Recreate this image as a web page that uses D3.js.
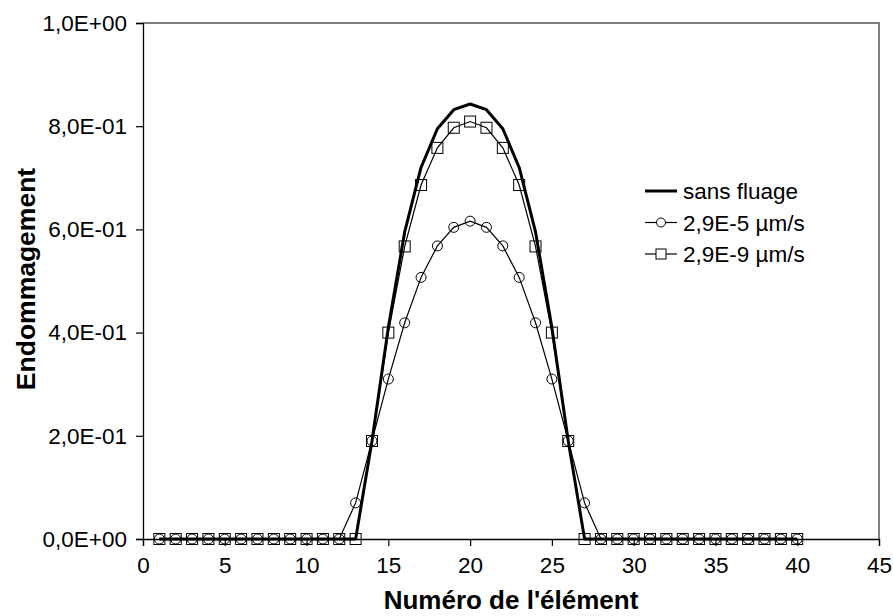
<!DOCTYPE html>
<html>
<head>
<meta charset="utf-8">
<script src="https://cdn.jsdelivr.net/npm/d3@7"></script>
<style>
  body { margin: 0; background: #fff; }
  text { font-family: "Liberation Sans", Arial, sans-serif; }
</style>
</head>
<body>
<div id="container"></div>
<script>
/* CONSTANTS AND GLOBALS */
const width = 893,
  height = 616;
const margin = { top: 23, right: 14, bottom: 77, left: 143 };

// element numbers 1..40
const elements = d3.range(1, 41);

// values (symmetric around element 20)
const sansFluage = [
  0, 0, 0, 0, 0, 0, 0, 0, 0, 0, 0, 0, 0,
  0.19, 0.41, 0.595, 0.72, 0.795, 0.832, 0.843, 0.832, 0.795, 0.72, 0.595, 0.41, 0.19,
  0, 0, 0, 0, 0, 0, 0, 0, 0, 0, 0, 0, 0, 0
];
const creep5 = [
  0, 0, 0, 0, 0, 0, 0, 0, 0, 0, 0, 0,
  0.07, 0.19, 0.31, 0.419, 0.507, 0.568, 0.604, 0.616, 0.604, 0.568, 0.507, 0.419, 0.31, 0.19, 0.07,
  0, 0, 0, 0, 0, 0, 0, 0, 0, 0, 0, 0, 0
];
const creep9 = [
  0, 0, 0, 0, 0, 0, 0, 0, 0, 0, 0, 0, 0,
  0.19, 0.40, 0.567, 0.686, 0.758, 0.797, 0.809, 0.797, 0.758, 0.686, 0.567, 0.40, 0.19,
  0, 0, 0, 0, 0, 0, 0, 0, 0, 0, 0, 0, 0, 0
];

const xTicks = [0, 5, 10, 15, 20, 25, 30, 35, 40, 45];
const yTicks = [0, 0.2, 0.4, 0.6, 0.8, 1.0];
const yTickLabels = ["0,0E+00", "2,0E-01", "4,0E-01", "6,0E-01", "8,0E-01", "1,0E+00"];
const legendLabels = ["sans fluage", "2,9E-5 µm/s", "2,9E-9 µm/s"];

const svg = d3.select("#container")
  .append("svg")
  .attr("width", width)
  .attr("height", height);

const xScale = d3.scaleLinear()
  .domain([0, 45])
  .range([margin.left, width - margin.right]);

const yScale = d3.scaleLinear()
  .domain([0, 1])
  .range([height - margin.bottom, margin.top]);

// plot frame (top/right gray like excel)
svg.append("path")
  .attr("d", `M${xScale(0)},${yScale(1)}H${xScale(45)}V${yScale(0)}`)
  .attr("fill", "none")
  .attr("stroke", "#555")
  .attr("stroke-width", 1.5);

// axes
const xAxis = d3.axisBottom(xScale)
  .tickValues(xTicks)
  .tickSize(7)
  .tickPadding(11)
  .tickFormat(d => d);

const yAxis = d3.axisLeft(yScale)
  .tickValues(yTicks)
  .tickSize(7)
  .tickPadding(9)
  .tickFormat((d, i) => yTickLabels[i]);

const xAxisGroup = svg.append("g")
  .attr("transform", `translate(0, ${yScale(0)})`)
  .call(xAxis);

const yAxisGroup = svg.append("g")
  .attr("transform", `translate(${xScale(0)}, 0)`)
  .call(yAxis);

[xAxisGroup, yAxisGroup].forEach(g => {
  g.select(".domain").attr("stroke", "#000").attr("stroke-width", 1.3);
  g.selectAll(".tick line").attr("stroke", "#000").attr("stroke-width", 1.2);
  g.selectAll(".tick text")
    .attr("fill", "#000")
    .style("font-size", "22.5px")
    .style("font-family", "'Liberation Sans', Arial, sans-serif");
});

// axis titles
svg.append("text")
  .attr("x", (xScale(0) + xScale(45)) / 2)
  .attr("y", 609)
  .attr("text-anchor", "middle")
  .style("font-size", "26px")
  .style("font-weight", "bold")
  .text("Numéro de l'élément");

svg.append("text")
  .attr("transform", `translate(35, ${(yScale(0) + yScale(1)) / 2 - 2}) rotate(-90)`)
  .attr("text-anchor", "middle")
  .style("font-size", "26.5px")
  .style("font-weight", "bold")
  .text("Endommagement");

const line = d3.line()
  .x((d, i) => xScale(elements[i]))
  .y(d => yScale(d));

// series lines
svg.append("path")
  .attr("d", line(creep5))
  .attr("fill", "none")
  .attr("stroke", "#000")
  .attr("stroke-width", 1.2);

svg.append("path")
  .attr("d", line(creep9))
  .attr("fill", "none")
  .attr("stroke", "#000")
  .attr("stroke-width", 1.2);

svg.append("path")
  .attr("d", line(sansFluage))
  .attr("fill", "none")
  .attr("stroke", "#000")
  .attr("stroke-width", 3)
  .attr("stroke-linejoin", "round");

// markers
svg.selectAll("circle.dot")
  .data(creep5)
  .join("circle")
  .attr("class", "dot")
  .attr("cx", (d, i) => xScale(elements[i]))
  .attr("cy", d => yScale(d))
  .attr("r", 5)
  .attr("fill", "none")
  .attr("stroke", "#000")
  .attr("stroke-width", 1);

svg.selectAll("rect.sq")
  .data(creep9)
  .join("rect")
  .attr("class", "sq")
  .attr("x", (d, i) => xScale(elements[i]) - 5.5)
  .attr("y", d => yScale(d) - 5.5)
  .attr("width", 11)
  .attr("height", 11)
  .attr("fill", "none")
  .attr("stroke", "#000")
  .attr("stroke-width", 1);

// legend
const legend = svg.append("g").attr("transform", "translate(645, 191)");
legendLabels.forEach((label, i) => {
  const g = legend.append("g").attr("transform", `translate(0, ${i * 31.5})`);
  g.append("line")
    .attr("x1", 0).attr("x2", 32)
    .attr("stroke", "#000")
    .attr("stroke-width", i === 0 ? 3 : 1.2);
  if (i === 1) {
    g.append("circle").attr("cx", 16).attr("r", 4.5)
      .attr("fill", "#fff").attr("stroke", "#000");
  } else if (i === 2) {
    g.append("rect").attr("x", 11).attr("y", -5).attr("width", 10).attr("height", 10)
      .attr("fill", "#fff").attr("stroke", "#000");
  }
  g.append("text")
    .attr("x", 38)
    .attr("y", 8)
    .style("font-size", "22.5px")
    .text(label);
});
</script>
</body>
</html>
